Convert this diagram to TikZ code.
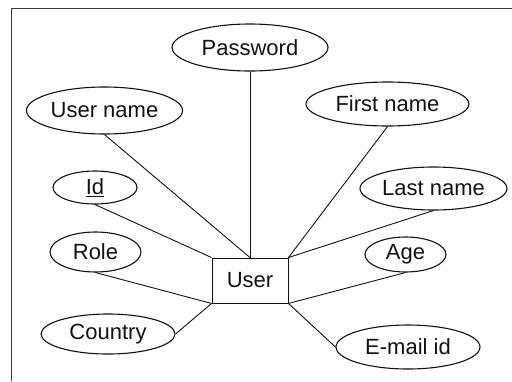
\documentclass[tikz,border=0pt]{standalone}
\usepackage{fontspec}
\setmainfont{Liberation Sans}
\usetikzlibrary{shapes.geometric}
\definecolor{ink}{HTML}{111111}
\definecolor{frame}{HTML}{3A3A3A}
\tikzset{
  font=\fontsize{22}{25}\selectfont,
  attr/.style={ellipse, draw=ink, line width=1.1pt, inner sep=0pt, text=ink},
  entity/.style={draw=ink, line width=0.9pt, inner sep=0pt, text=ink,
                 minimum width=76pt, minimum height=45pt},
  link/.style={draw=ink, line width=0.9pt},
}
\begin{document}
\begin{tikzpicture}[x=1pt, y=-1pt]
  \useasboundingbox (0,0) rectangle (512,381);

  % cropped frame
  \draw[frame, line width=1.3pt] (11.7,381) -- (11.7,8.7) -- (512,8.7);

  \node[entity] (user) at (250,280.5) {User};

  % attributes
  \node[attr, minimum width=156pt, minimum height=47pt] (password)  at (250,47.5)  {Password};
  \node[attr, minimum width=156pt, minimum height=47pt] (username)  at (104.5,110.5) {User name};
  \node[attr, minimum width=84pt,  minimum height=33pt] (id)        at (95,187.5)  {\underline{Id}};
  \node[attr, minimum width=91pt,  minimum height=40pt] (role)      at (95.5,252)  {Role};
  \node[attr, minimum width=134pt, minimum height=40pt] (country)   at (108,334)   {Country};
  \node[attr, minimum width=163pt, minimum height=44pt] (firstname) at (387.5,104) {First name};
  \node[attr, minimum width=147pt, minimum height=43pt] (lastname)  at (433.5,188.5) {Last name};
  \node[attr, minimum width=81pt,  minimum height=35pt] (age)       at (405.5,254.5) {Age};
  \node[attr, minimum width=144pt, minimum height=44pt] (email)     at (408,347)   {E-mail id};

  % links to the entity
  \draw[link] (password.south)  -- (user.north);
  \draw[link] (username.south)  -- (user.north);
  \draw[link] (id.south)        -- (user.north west);
  \draw[link] (role.south)      -- (user.south west);
  \draw[link] (country.east)    -- (user.south west);
  \draw[link] (firstname.south) -- (user.north east);
  \draw[link] (lastname.south)  -- (user.north east);
  \draw[link] (age.south)       -- (user.south east);
  \draw[link] (email.west)      -- (user.south east);

\end{tikzpicture}
\end{document}
